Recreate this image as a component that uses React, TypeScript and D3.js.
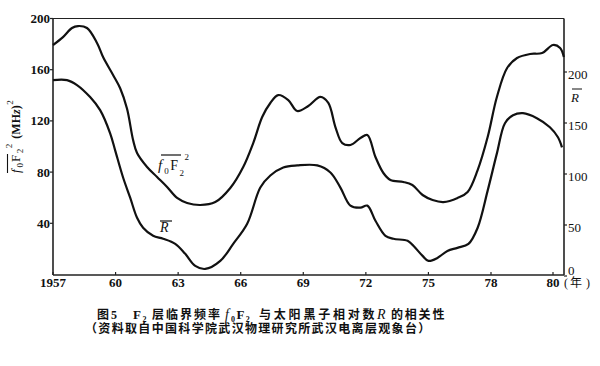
import React from "react";
import * as d3 from "d3";

// f0F2^2 (MHz^2), left axis
const f0Years = [1957.0, 1957.48, 1957.91, 1958.2, 1958.63, 1959.11, 1959.4, 1959.88, 1960.22, 1960.55, 1960.84, 1961.03, 1961.51, 1961.99, 1962.47, 1962.95, 1963.43, 1964.06, 1964.78, 1965.5, 1966.12, 1966.6, 1967.03, 1967.42, 1967.8, 1968.28, 1968.71, 1969.24, 1969.82, 1970.2, 1970.54, 1970.87, 1971.26, 1971.74, 1972.07, 1972.46, 1972.84, 1973.18, 1973.8, 1974.23, 1974.72, 1975.2, 1975.72, 1976.4, 1976.88, 1977.36, 1977.84, 1978.19, 1978.52, 1978.84, 1979.26, 1979.65, 1980.0, 1980.23, 1980.35];
const f0Values = [179.3, 185.5, 192.6, 194.1, 192.6, 180.9, 169.9, 155.9, 145.5, 129.5, 105.1, 94.9, 84.0, 76.2, 68.4, 59.8, 55.9, 54.3, 56.6, 67.6, 84.0, 102.7, 123.0, 134.0, 140.2, 136.3, 127.7, 131.6, 138.7, 134.0, 115.2, 102.7, 101.2, 106.6, 109.0, 91.8, 79.3, 73.8, 72.3, 69.9, 62.1, 58.2, 56.6, 59.8, 64.5, 81.6, 107.4, 138.7, 161.3, 169.1, 172.3, 173.0, 179.3, 177.0, 169.9];

// Sunspot relative number R, right axis
const rYears = [1957.0, 1957.67, 1958.15, 1958.78, 1959.26, 1959.74, 1959.98, 1960.36, 1960.7, 1961.03, 1961.32, 1961.8, 1962.28, 1962.86, 1963.34, 1963.82, 1964.3, 1965.02, 1965.64, 1966.31, 1966.94, 1967.42, 1968.04, 1968.71, 1969.67, 1970.3, 1970.78, 1971.26, 1971.74, 1972.07, 1972.46, 1972.94, 1973.32, 1974.0, 1974.28, 1974.72, 1975.0, 1975.43, 1975.91, 1976.39, 1976.92, 1977.36, 1977.84, 1978.19, 1978.45, 1978.71, 1979.03, 1979.48, 1979.9, 1980.16, 1980.29];
const rValues = [192.1, 192.1, 187.2, 175.4, 162.6, 139.9, 123.2, 96.6, 76.8, 57.1, 47.3, 39.4, 36.5, 31.5, 21.7, 9.9, 6.9, 14.8, 31.5, 51.2, 86.7, 98.5, 106.4, 108.4, 108.4, 101.5, 86.7, 69.0, 67.0, 69.0, 54.2, 39.4, 36.5, 34.5, 29.6, 19.7, 14.8, 17.7, 24.6, 27.6, 31.5, 47.3, 83.7, 120.2, 149.8, 157.6, 159.6, 154.7, 145.8, 136.0, 126.1];

const xTickYears = [1957, 1960, 1963, 1966, 1969, 1972, 1975, 1978, 1980];
const xTickLabels = ["1957", "60", "63", "66", "69", "72", "75", "78", "80"];
const leftTicks = [40, 80, 120, 160, 200];
const rightTicks = [0, 50, 100, 150, 200];

const SERIF = "'Liberation Serif', 'DejaVu Serif', serif";
const CJK = "'Noto Sans CJK SC', 'Noto Sans CJK TC', sans-serif";

export default function App() {
  const x = d3.scaleLinear().domain([1957, 1978, 1980]).range([53, 491, 553]);
  const yL = d3.scaleLinear().domain([0, 200]).range([274.5, 18.5]);
  const yR = d3.scaleLinear().domain([0, 200]).range([276, 72]);
  const left = 53, right = 564, top = 18.5, bottom = 275;

  const line = d3.line<[number, number]>().curve(d3.curveCatmullRom.alpha(0.5));
  const fPath = line(f0Years.map((yr, i) => [x(yr), yL(f0Values[i])] as [number, number])) || "";
  const rPath = line(rYears.map((yr, i) => [x(yr), yR(rValues[i])] as [number, number])) || "";

  return (
    <svg width={600} height={366} style={{ position: "absolute", left: 0, top: 0, background: "#fff" }}>
      <rect x={0} y={0} width={600} height={366} fill="#fff" />
      {/* frame */}
      <g stroke="#222" fill="none">
        <line x1={left} y1={top} x2={left} y2={bottom} strokeWidth={1.6} />
        <line x1={left} y1={bottom} x2={right} y2={bottom} strokeWidth={1.6} />
        <line x1={right} y1={top} x2={right} y2={bottom} strokeWidth={1.6} />
        <line x1={left} y1={top} x2={right} y2={top} strokeWidth={1.2} />
      </g>
      {/* left ticks */}
      {leftTicks.map((v) => (
        <g key={"l" + v}>
          <line x1={left - 3} x2={left} y1={yL(v)} y2={yL(v)} stroke="#222" strokeWidth={1.2} />
          <text x={left - 3} y={yL(v)} dy="0.35em" textAnchor="end" fontFamily={SERIF} fontSize={13} fontWeight="bold" fill="#111">{v}</text>
        </g>
      ))}
      {/* right ticks */}
      {rightTicks.map((v) => (
        <g key={"r" + v}>
          <line x1={right} x2={right + 3} y1={yR(v)} y2={yR(v)} stroke="#222" strokeWidth={1.2} />
          <text x={right + 4} y={v === 0 ? 270 : yR(v) + 2} dy="0.35em" textAnchor="start" fontFamily={SERIF} fontSize={13} fill="#111">{v}</text>
        </g>
      ))}
      {/* bottom ticks */}
      {xTickYears.map((yr, i) => (
        <g key={"x" + yr}>
          <line x1={x(yr)} x2={x(yr)} y1={bottom - 3} y2={bottom} stroke="#222" strokeWidth={1.2} />
          <text x={x(yr)} y={287} textAnchor="middle" fontFamily={SERIF} fontSize={13} fontWeight="bold" fill="#111">{xTickLabels[i]}</text>
        </g>
      ))}
      <text x={564} y={287} fontFamily={SERIF} fontSize={12} fill="#111">
        (<tspan fontFamily={CJK} dx={2}>年</tspan><tspan dx={4}>)</tspan>
      </text>

      {/* curves */}
      <path d={fPath} fill="none" stroke="#111" strokeWidth={2.2} strokeLinejoin="round" />
      <path d={rPath} fill="none" stroke="#111" strokeWidth={2.2} strokeLinejoin="round" />

      {/* curve label f0F2^2 */}
      <g fontFamily={SERIF} fill="#111">
        <text x={158} y={170}>
          <tspan fontSize={15} fontStyle="italic">f</tspan>
          <tspan fontSize={9} dx={2} dy={4}>0</tspan>
          <tspan fontSize={14} dx={1.5} dy={-4}>F</tspan>
          <tspan fontSize={9} dx={1.5} dy={6}>2</tspan>
          <tspan fontSize={9} dx={0.5} dy={-16}>2</tspan>
        </text>
        <line x1={161} x2={181} y1={155} y2={155} stroke="#111" strokeWidth={1.2} />
        {/* R label */}
        <text x={160} y={232} fontSize={14} fontStyle="italic">R</text>
        <line x1={160} x2={172} y1={221} y2={221} stroke="#111" strokeWidth={1.2} />
        {/* right axis title */}
        <text x={571} y={102} fontSize={13} fontStyle="italic">R</text>
        <line x1={572} x2={582} y1={89} y2={89} stroke="#111" strokeWidth={1} />
      </g>

      {/* left axis title (rotated) */}
      <g transform="translate(20,173) rotate(-90)" fontFamily={SERIF} fill="#111">
        <text x={0} y={0}>
          <tspan fontSize={13} fontStyle="italic">f</tspan>
          <tspan fontSize={9} dx={2} dy={3}>0</tspan>
          <tspan fontSize={13} dx={1} dy={-3}>F</tspan>
          <tspan fontSize={9} dx={1.5} dy={3}>2</tspan>
          <tspan fontSize={9} dx={0.5} dy={-11}>2</tspan>
          <tspan fontSize={12} fontWeight="bold" dx={5} dy={8}>(MH</tspan>
          <tspan fontSize={12} fontWeight="bold" fontStyle="italic">z</tspan>
          <tspan fontSize={12} fontWeight="bold">)</tspan>
          <tspan fontSize={9} dx={0.5} dy={-7}>2</tspan>
        </text>
        <line x1={0} x2={19} y1={-12.5} y2={-12.5} stroke="#111" strokeWidth={1.1} />
      </g>

      {/* caption line 1 */}
      <g fill="#111" fontWeight="bold">
        <text x={97} y={319} fontFamily={CJK} fontSize={12}>图<tspan fontFamily={SERIF} dx={2}>5</tspan></text>
        <text x={133} y={319} fontFamily={SERIF} fontSize={13}>F<tspan fontSize={8} dx={1.5} dy={3}>2</tspan></text>
        <text x={152} y={319} fontFamily={CJK} fontSize={12} letterSpacing={2}>层临界频率</text>
        <text x={225} y={319} fontFamily={SERIF}>
          <tspan fontSize={14} fontStyle="italic" fontWeight="normal">f</tspan>
          <tspan fontSize={8} dx={2} dy={3}>0</tspan>
          <tspan fontSize={13} dx={1.5} dy={-3}>F</tspan>
          <tspan fontSize={8} dx={1.5} dy={3}>2</tspan>
        </text>
        <text x={259} y={319} fontFamily={CJK} fontSize={12} letterSpacing={2.8}>与太阳黑子相对数</text>
        <text x={377} y={319} fontFamily={SERIF} fontSize={14} fontStyle="italic" fontWeight="normal">R</text>
        <text x={391} y={319} fontFamily={CJK} fontSize={12} letterSpacing={1.8}>的相关性</text>
      </g>
      {/* caption line 2 */}
      <text x={85} y={333} fill="#111" fontFamily={CJK} fontSize={12} fontWeight="bold" letterSpacing={1.33}>（资料取自中国科学院武汉物理研究所武汉电离层观象台）</text>
    </svg>
  );
}
